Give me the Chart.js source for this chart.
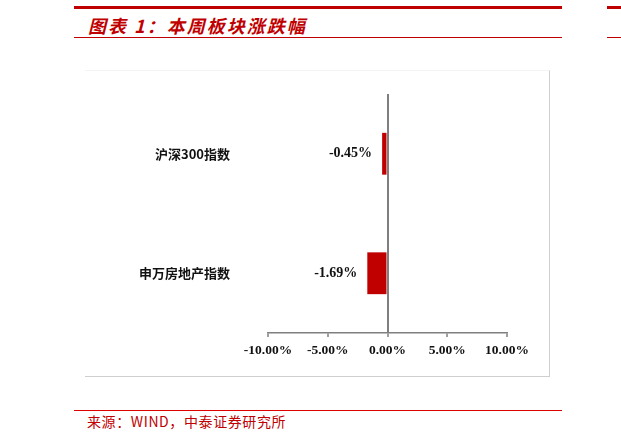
<!DOCTYPE html>
<html>
<head>
<meta charset="utf-8">
<script src="https://cdn.jsdelivr.net/npm/chart.js@4/dist/chart.umd.min.js"></script>
<style>
    body { margin: 0; width: 621px; height: 441px; background: #fff; position: relative; overflow: hidden; }
    .linea { position: absolute; background: #c00000; }
    #titulo {
        position: absolute; left: 88px; top: 12px;
        font: italic bold 18px "Noto Sans CJK SC", sans-serif;
        letter-spacing: 2px; color: #c00000; white-space: nowrap;
    }
    #marco {
        position: absolute; left: 85px; top: 70px; width: 465px; height: 307px;
        border-right: 1.5px solid #cfcfcf; border-bottom: 1.5px solid #cfcfcf;
        border-top: 1px solid #f4f4f4; box-sizing: border-box;
    }
    #marco canvas { position: absolute; left: 0; top: -1px; }
    #fuente {
        position: absolute; left: 87px; top: 411px;
        font: 14px "Noto Sans CJK SC", sans-serif; letter-spacing: 0.6px;
        color: #c00000; white-space: nowrap;
    }
</style>
</head>
<body>
<div class="linea" style="left:74px; top:6px; width:488px; height:2.5px;"></div>
<div class="linea" style="left:607px; top:6px; width:14px; height:2.5px;"></div>
<div id="titulo">图表 1：本周板块涨跌幅</div>
<div class="linea" style="left:74px; top:36.5px; width:488px; height:1.5px;"></div>
<div class="linea" style="left:607px; top:36.5px; width:14px; height:1.5px;"></div>
<div id="marco"><canvas id="grafica" width="465" height="307"></canvas></div>
<div class="linea" style="left:74px; top:409.5px; width:488px; height:1.5px; background:#e00000;"></div>
<div id="fuente">来源：WIND，中泰证券研究所</div>

<script>
// Datos del gráfico
const categorias = ['沪深300指数', '申万房地产指数'];
const variaciones = [-0.45, -1.69];
const ticksX = [-10, -5, 0, 5, 10];

const colorEje = '#7f7f7f';

// Etiquetas de valor a la izquierda de cada barra
const etiquetasValor = {
    id: 'etiquetasValor',
    afterDatasetsDraw(chart) {
        const ctx = chart.ctx;
        const meta = chart.getDatasetMeta(0);
        ctx.save();
        ctx.font = 'bold 14px "Liberation Serif", serif';
        ctx.fillStyle = '#111';
        ctx.textAlign = 'right';
        ctx.textBaseline = 'middle';
        meta.data.forEach((barra, i) => {
            const v = variaciones[i];
            const x = Math.min(barra.x, barra.base) - 10;
            ctx.fillText(v.toFixed(2) + '%', x, barra.y);
        });
        ctx.restore();
    }
};

new Chart(document.getElementById('grafica'), {
    type: 'bar',
    data: {
        labels: categorias,
        datasets: [{
            data: variaciones,
            backgroundColor: '#c00000',
            borderWidth: 0,
            categoryPercentage: 1,
            barPercentage: 0.35
        }]
    },
    options: {
        indexAxis: 'y',
        responsive: false,
        animation: false,
        layout: { padding: { left: 0, right: 43, top: 24, bottom: 0 } },
        plugins: { legend: { display: false }, tooltip: { enabled: false } },
        scales: {
            x: {
                min: -10,
                max: 10,
                afterBuildTicks: (scale) => { scale.ticks = ticksX.map(v => ({ value: v })); },
                afterFit: (scale) => {
                    scale.height = 44;
                    scale.paddingLeft = scale.paddingRight = 0;
                    scale.paddingTop = scale.paddingBottom = 0;
                },
                grid: {
                    color: (c) => c.tick && c.tick.value === 0 ? colorEje : 'rgba(0,0,0,0)',
                    lineWidth: 2,
                    drawTicks: true,
                    tickLength: 4,
                    tickColor: colorEje,
                    tickWidth: 1.5
                },
                border: { display: true, color: colorEje, width: 1.5 },
                ticks: {
                    padding: 5,
                    color: '#111',
                    font: { family: '"Liberation Serif", serif', size: 13.5, weight: 'bold' },
                    callback: (v) => Number(v).toFixed(2) + '%'
                }
            },
            y: {
                afterFit: (scale) => {
                    scale.width = 183;
                    scale.paddingTop = scale.paddingBottom = 0;
                    scale.paddingLeft = scale.paddingRight = 0;
                },
                grid: { display: false, drawTicks: false },
                border: { display: false },
                ticks: {
                    padding: 38,
                    color: '#111',
                    font: { family: '"Noto Sans CJK SC", sans-serif', size: 13, weight: 'bold' }
                }
            }
        }
    },
    plugins: [etiquetasValor]
});
</script>
</body>
</html>
